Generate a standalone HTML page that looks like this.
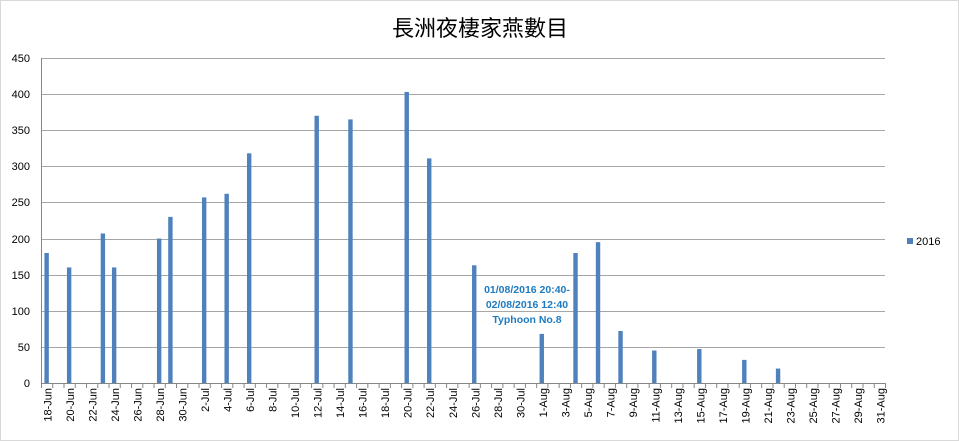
<!DOCTYPE html>
<html><head><meta charset="utf-8"><style>
body{margin:0;background:#fff;}
svg{display:block;font-family:"Liberation Sans","Noto Sans CJK TC",sans-serif;}
</style></head><body>
<svg width="959" height="441" viewBox="0 0 959 441" xmlns="http://www.w3.org/2000/svg">
<defs>
<pattern id="tk" x="41" y="0" width="11.2533" height="10" patternUnits="userSpaceOnUse">
<rect x="0" y="0" width="1" height="10" fill="#868686"/>
</pattern>
</defs>
<rect x="0.5" y="0.5" width="958" height="440" fill="#fff" stroke="#d9d9d9"/>
<text x="480" y="36" text-anchor="middle" font-size="22" fill="#000">長洲夜棲家燕數目</text>
<g stroke="#a6a6a6" stroke-width="1">
<line x1="41" x2="885" y1="58.5" y2="58.5"/>
<line x1="41" x2="885" y1="94.5" y2="94.5"/>
<line x1="41" x2="885" y1="130.5" y2="130.5"/>
<line x1="41" x2="885" y1="166.5" y2="166.5"/>
<line x1="41" x2="885" y1="202.5" y2="202.5"/>
<line x1="41" x2="885" y1="239.5" y2="239.5"/>
<line x1="41" x2="885" y1="275.5" y2="275.5"/>
<line x1="41" x2="885" y1="311.5" y2="311.5"/>
<line x1="41" x2="885" y1="347.5" y2="347.5"/>
</g>
<rect x="41" y="383" width="846" height="5" fill="url(#tk)"/>
<line x1="41" x2="885" y1="383.5" y2="383.5" stroke="#868686"/>
<line x1="41.5" x2="41.5" y1="58" y2="383" stroke="#868686"/>
<g font-size="11" fill="#000" text-anchor="end">
<text x="30" y="62">450</text><text x="30" y="98">400</text><text x="30" y="134">350</text>
<text x="30" y="170">300</text><text x="30" y="206">250</text><text x="30" y="243">200</text>
<text x="30" y="279">150</text><text x="30" y="315">100</text><text x="30" y="351">50</text>
<text x="30" y="387">0</text>
</g>
<g fill="#4f81bd">
<rect x="44.43" y="253" width="4.4" height="130"/>
<rect x="66.93" y="267.44" width="4.4" height="115.56"/>
<rect x="100.69" y="233.5" width="4.4" height="149.5"/>
<rect x="111.94" y="267.44" width="4.4" height="115.56"/>
<rect x="156.95" y="238.56" width="4.4" height="144.44"/>
<rect x="168.21" y="216.89" width="4.4" height="166.11"/>
<rect x="201.97" y="197.39" width="4.4" height="185.61"/>
<rect x="224.47" y="193.78" width="4.4" height="189.22"/>
<rect x="246.98" y="153.33" width="4.4" height="229.67"/>
<rect x="314.5" y="115.78" width="4.4" height="267.22"/>
<rect x="348.26" y="119.39" width="4.4" height="263.61"/>
<rect x="404.53" y="91.94" width="4.4" height="291.06"/>
<rect x="427.03" y="158.39" width="4.4" height="224.61"/>
<rect x="472.04" y="265.28" width="4.4" height="117.72"/>
<rect x="539.56" y="333.89" width="4.4" height="49.11"/>
<rect x="573.32" y="253" width="4.4" height="130"/>
<rect x="595.83" y="242.17" width="4.4" height="140.83"/>
<rect x="618.33" y="331" width="4.4" height="52"/>
<rect x="652.09" y="350.5" width="4.4" height="32.5"/>
<rect x="697.1" y="349.06" width="4.4" height="33.94"/>
<rect x="742.11" y="359.89" width="4.4" height="23.11"/>
<rect x="775.87" y="368.56" width="4.4" height="14.44"/>
</g>
<g font-size="11" fill="#000" text-anchor="end">
<text transform="translate(51.63,388) rotate(-90)">18-Jun</text>
<text transform="translate(74.13,388) rotate(-90)">20-Jun</text>
<text transform="translate(96.64,388) rotate(-90)">22-Jun</text>
<text transform="translate(119.15,388) rotate(-90)">24-Jun</text>
<text transform="translate(141.65,388) rotate(-90)">26-Jun</text>
<text transform="translate(164.16,388) rotate(-90)">28-Jun</text>
<text transform="translate(186.67,388) rotate(-90)">30-Jun</text>
<text transform="translate(209.17,388) rotate(-90)">2-Jul</text>
<text transform="translate(231.68,388) rotate(-90)">4-Jul</text>
<text transform="translate(254.19,388) rotate(-90)">6-Jul</text>
<text transform="translate(276.69,388) rotate(-90)">8-Jul</text>
<text transform="translate(299.2,388) rotate(-90)">10-Jul</text>
<text transform="translate(321.71,388) rotate(-90)">12-Jul</text>
<text transform="translate(344.21,388) rotate(-90)">14-Jul</text>
<text transform="translate(366.72,388) rotate(-90)">16-Jul</text>
<text transform="translate(389.23,388) rotate(-90)">18-Jul</text>
<text transform="translate(411.73,388) rotate(-90)">20-Jul</text>
<text transform="translate(434.24,388) rotate(-90)">22-Jul</text>
<text transform="translate(456.75,388) rotate(-90)">24-Jul</text>
<text transform="translate(479.25,388) rotate(-90)">26-Jul</text>
<text transform="translate(501.76,388) rotate(-90)">28-Jul</text>
<text transform="translate(524.27,388) rotate(-90)">30-Jul</text>
<text transform="translate(546.77,388) rotate(-90)">1-Aug</text>
<text transform="translate(569.28,388) rotate(-90)">3-Aug</text>
<text transform="translate(591.79,388) rotate(-90)">5-Aug</text>
<text transform="translate(614.29,388) rotate(-90)">7-Aug</text>
<text transform="translate(636.8,388) rotate(-90)">9-Aug</text>
<text transform="translate(659.31,388) rotate(-90)">11-Aug</text>
<text transform="translate(681.81,388) rotate(-90)">13-Aug</text>
<text transform="translate(704.32,388) rotate(-90)">15-Aug</text>
<text transform="translate(726.83,388) rotate(-90)">17-Aug</text>
<text transform="translate(749.33,388) rotate(-90)">19-Aug</text>
<text transform="translate(771.84,388) rotate(-90)">21-Aug</text>
<text transform="translate(794.35,388) rotate(-90)">23-Aug</text>
<text transform="translate(816.85,388) rotate(-90)">25-Aug</text>
<text transform="translate(839.36,388) rotate(-90)">27-Aug</text>
<text transform="translate(861.87,388) rotate(-90)">29-Aug</text>
<text transform="translate(884.37,388) rotate(-90)">31-Aug</text>
</g>
<rect x="907" y="238" width="6" height="6" fill="#4f81bd"/>
<text x="916" y="245" font-size="11">2016</text>
<g font-size="10.5" font-weight="bold" fill="#1f7bc0" text-anchor="middle">
<text x="527" y="293">01/08/2016 20:40-</text>
<text x="527" y="308">02/08/2016 12:40</text>
<text x="527" y="323">Typhoon No.8</text>
</g>
</svg>
</body></html>
